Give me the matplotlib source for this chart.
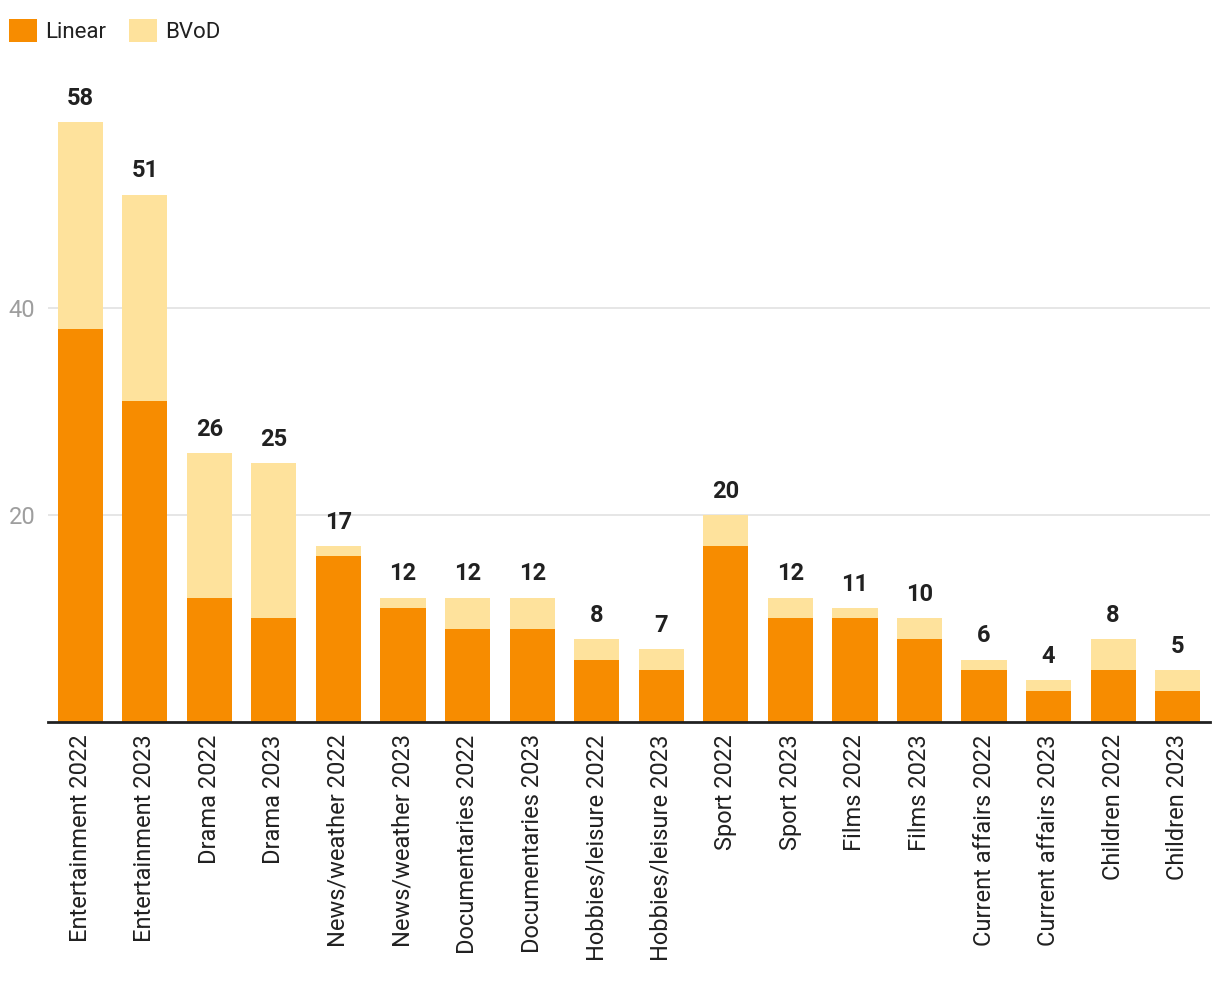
import matplotlib
matplotlib.use('Agg')
import matplotlib.pyplot as plt
import numpy as np

# ── Theme ─────────────────────────────────────────────────────────────────
ORANGE = '#F78C00'
YELLOW = '#FEE29C'
GRID = '#E2E2E2'
TICK = '#9E9E9E'
TEXT = '#212121'

plt.rcParams['font.family'] = ['Roboto', 'DejaVu Sans']

# ── Data ──────────────────────────────────────────────────────────────────
categories = [
    'Entertainment 2022', 'Entertainment 2023', 'Drama 2022', 'Drama 2023',
    'News/weather 2022', 'News/weather 2023', 'Documentaries 2022',
    'Documentaries 2023', 'Hobbies/leisure 2022', 'Hobbies/leisure 2023',
    'Sport 2022', 'Sport 2023', 'Films 2022', 'Films 2023',
    'Current affairs 2022', 'Current affairs 2023', 'Children 2022',
    'Children 2023',
]
linear = [38, 31, 12, 10, 16, 11, 9, 9, 6, 5, 17, 10, 10, 8, 5, 3, 5, 3]
bvod = [20, 20, 14, 15, 1, 1, 3, 3, 2, 2, 3, 2, 1, 2, 1, 1, 3, 2]
totals = [58, 51, 26, 25, 17, 12, 12, 12, 8, 7, 20, 12, 11, 10, 6, 4, 8, 5]

# ── Figure ────────────────────────────────────────────────────────────────
fig = plt.figure(figsize=(12.2, 9.82), dpi=100, facecolor='white')
ax = fig.add_axes([0.0393, 0.265, 0.9525, 0.6314])

x = np.arange(len(categories))
b1 = ax.bar(x, linear, width=0.70, color=ORANGE, label='Linear', zorder=2)
b2 = ax.bar(x, bvod, width=0.70, bottom=linear, color=YELLOW, label='BVoD', zorder=2)

for xi, t in zip(x, totals):
    ax.annotate(f'{t}', xy=(xi, t), xytext=(0, 9), textcoords='offset points',
                ha='center', va='bottom', fontsize=17, fontweight='bold', color=TEXT)

ax.set_xlim(-0.5, len(categories) - 0.5)
ax.set_ylim(0, 60)
ax.set_yticks([20, 40])
ax.set_xticks(x)
ax.set_xticklabels(categories, rotation=90, fontsize=17, color=TEXT)
ax.tick_params(axis='x', length=0, pad=9)
ax.tick_params(axis='y', length=0, pad=9, labelsize=17, labelcolor=TICK)
ax.grid(axis='y', color=GRID, linewidth=1.2, zorder=0)

for side in ['top', 'right', 'left']:
    ax.spines[side].set_visible(False)
ax.spines['bottom'].set_color(TEXT)
ax.spines['bottom'].set_linewidth(2)
ax.spines['bottom'].set_zorder(3)

# ── Legend ────────────────────────────────────────────────────────────────
fig.legend(handles=[b1, b2], loc='upper left', bbox_to_anchor=(0.0, 0.99),
           ncol=2, frameon=False, fontsize=16, handlelength=1.25,
           handleheight=1.25, handletextpad=0.4, columnspacing=1.0,
           borderaxespad=0.1, borderpad=0.3, labelcolor=TEXT)

plt.savefig('out.png', dpi=100, facecolor='white')
plt.close()
